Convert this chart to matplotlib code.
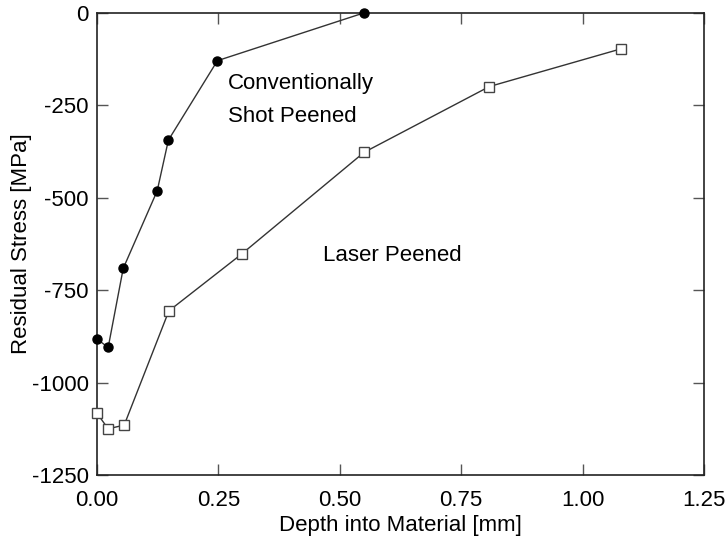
import matplotlib
matplotlib.use("Agg")
import matplotlib.pyplot as plt

plt.rcParams['font.family'] = ['Liberation Sans', 'DejaVu Sans']

shot_depth = [0.0, 0.023, 0.054, 0.124, 0.147, 0.248, 0.549]
shot_stress = [-882, -905, -691, -481, -344, -129, 0]

laser_depth = [0.0, 0.023, 0.056, 0.148, 0.298, 0.55, 0.808, 1.079]
laser_stress = [-1083, -1125, -1115, -806, -652, -377, -199, -97]

xticks = [0.0, 0.25, 0.5, 0.75, 1.0, 1.25]
xticklabels = ["0.00", "0.25", "0.50", "0.75", "1.00", "1.25"]
yticks = [0, -250, -500, -750, -1000, -1250]
yticklabels = ["0", "-250", "-500", "-750", "-1000", "-1250"]

fig = plt.figure(figsize=(7.28, 5.42), dpi=100)
ax = fig.add_axes([97/728, 1-475/542, (704-97)/728, (475-13)/542])

ax.plot(shot_depth, shot_stress, color='#333333', lw=1.0, marker='o',
        markersize=6.5, markerfacecolor='black', markeredgecolor='black',
        clip_on=False, zorder=3)
ax.plot(laser_depth, laser_stress, color='#333333', lw=1.0, marker='s',
        markersize=6.5, markerfacecolor='white', markeredgecolor='#444444',
        markeredgewidth=1.0, clip_on=False, zorder=3)

ax.set_xlim(0, 1.25)
ax.set_ylim(-1250, 0)
ax.set_xticks(xticks)
ax.set_xticklabels(xticklabels)
ax.set_yticks(yticks)
ax.set_yticklabels(yticklabels)
ax.tick_params(direction='in', length=8, width=1, top=True, right=True,
               labelsize=16, color='#555555')
ax.tick_params(axis='y', pad=6)
ax.tick_params(axis='x', pad=11)
for s in ax.spines.values():
    s.set_linewidth(1.2)
    s.set_color('#222222')

ax.set_xlabel("Depth into Material [mm]", fontsize=16, labelpad=3)
ax.set_ylabel("Residual Stress [MPa]", fontsize=16, labelpad=0)

ax.text(0.270, -192, "Conventionally", fontsize=16, ha='left', va='center')
ax.text(0.270, -279, "Shot Peened", fontsize=16, ha='left', va='center')
ax.text(0.465, -655, "Laser Peened", fontsize=16, ha='left', va='center')

fig.savefig("out.png", dpi=100)
